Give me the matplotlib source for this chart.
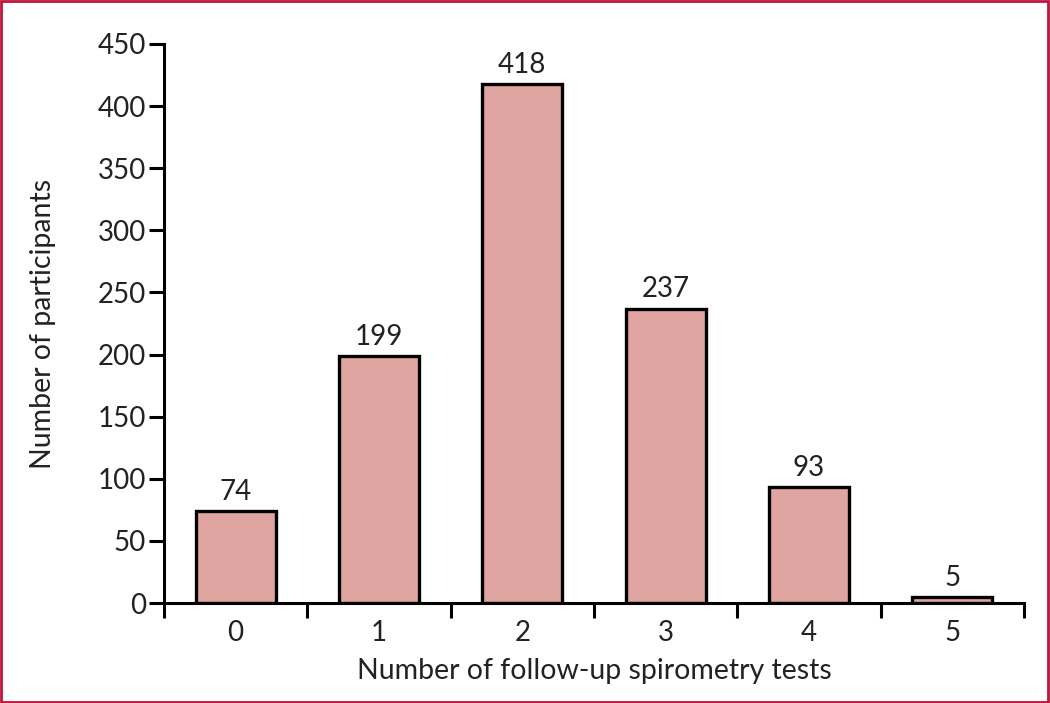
import matplotlib
matplotlib.use("Agg")
import matplotlib.pyplot as plt
from matplotlib.patches import Rectangle

categories = ["0", "1", "2", "3", "4", "5"]
values = [74, 199, 418, 237, 93, 5]
yticks = [0, 50, 100, 150, 200, 250, 300, 350, 400, 450]

plt.rcParams['font.family'] = ['Lato', 'DejaVu Sans']

fig = plt.figure(figsize=(10.5, 7.03), dpi=100)
ax = fig.add_axes([164/1050, 1-603/703, (1024-164)/1050, (603-44)/703])

x = list(range(len(categories)))
bars = ax.bar(x, values, width=0.56, color='#e0a5a0', edgecolor='black', linewidth=2.4)
for xi, v in zip(x, values):
    ax.text(xi, v + 5, str(v), ha='center', va='bottom', fontsize=20, color='#222222')

ax.set_xlim(-0.5, len(categories) - 0.5)
ax.set_ylim(0, 450)
ax.set_yticks(yticks)
ax.set_yticklabels([str(t) for t in yticks], fontsize=20, color='#222222')
ax.set_xticks(x)
ax.set_xticklabels(categories, fontsize=20, color='#222222')
ax.tick_params(axis='x', length=0, pad=12)
ax.set_xticks([i - 0.5 for i in range(len(categories) + 1)], minor=True)
ax.tick_params(axis='x', which='minor', length=11, width=2.2, direction='out')
ax.tick_params(axis='y', length=11, width=2.2, pad=2)

for s in ['top', 'right']:
    ax.spines[s].set_visible(False)
for s in ['left', 'bottom']:
    ax.spines[s].set_linewidth(2.2)

ax.set_xlabel("Number of follow-up spirometry tests", fontsize=20.5, color='#222222', labelpad=9)
ax.set_ylabel("Number of participants", fontsize=20.5, color='#222222', labelpad=30)

fig.patches.append(Rectangle((0.001, 0.001), 0.997, 0.997, transform=fig.transFigure,
                             fill=False, edgecolor='#c0143c', linewidth=2))

fig.savefig("out.png", dpi=100)
